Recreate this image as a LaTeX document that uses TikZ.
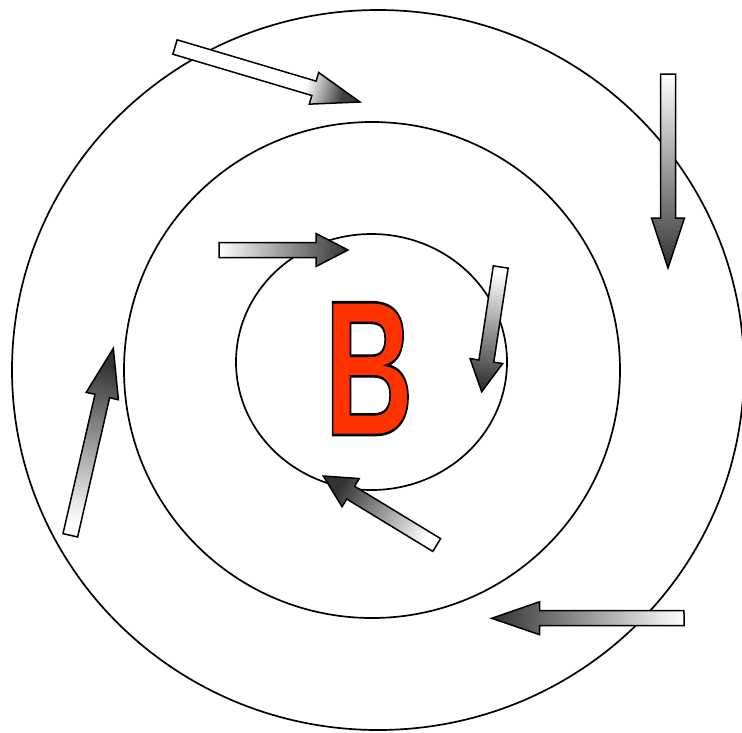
\documentclass[tikz,border=0pt]{standalone}
\usepackage{fontspec}
\usepackage{graphicx}
\usepackage{xcolor}
\usetikzlibrary{calc}

\newfontfamily\letterfont{Liberation Sans}
\definecolor{letterred}{HTML}{FF3300}
% filled text with a black outline
\newcommand{\outlined}[1]{\special{pdf:literal direct 2 Tr 2.6 w 0 0 0 RG}#1\special{pdf:literal direct 0 Tr}}

% white tail -> dark head
\pgfdeclareverticalshading{arrowfade}{100bp}{color(0bp)=(black!80); color(25bp)=(black!80); color(75bp)=(white); color(100bp)=(white)}
% only the head is shaded
\pgfdeclareverticalshading{headfade}{100bp}{color(0bp)=(black!80); color(25bp)=(black!75); color(37bp)=(white); color(100bp)=(white)}

\tikzset{
  ring/.style={draw=black, line width=1.7pt},
  arrowbody/.style={draw=black, line width=1.5pt, line join=miter}
}

% #1 tail, #2 tip, #3 head length, #4 shading
\newcommand{\blockarrow}[4]{%
  \pgfmathanglebetweenpoints{\pgfpointanchor{#1}{center}}{\pgfpointanchor{#2}{center}}%
  \pgfmathsetmacro{\arrowang}{\pgfmathresult+90}%
  \coordinate (#1base) at ($(#2)!#3!(#1)$);
  \shadedraw[arrowbody, shading=#4, shading angle=\arrowang]
    ($(#1)!7.5pt!90:(#2)$) -- ($(#1base)!7.5pt!90:(#2)$) -- ($(#1base)!16.5pt!90:(#2)$) -- (#2)
    -- ($(#1base)!16.5pt!-90:(#2)$) -- ($(#1base)!7.5pt!-90:(#2)$) -- ($(#1)!7.5pt!-90:(#2)$) -- cycle;
}

\begin{document}
\begin{tikzpicture}[x=1pt, y=-1pt]
    \useasboundingbox (0,0) rectangle (742,732);
    \clip (0,0) rectangle (742,732);

    % The three rings
    \draw[ring] (378,370) ellipse [x radius=366, y radius=360];
    \draw[ring] (372,370) circle [radius=248];
    \draw[ring] (371.5,362) ellipse [x radius=135.5, y radius=128];

    % The letter
    \node[anchor=base, inner sep=0pt] (letter) at (369,435)
      {\scalebox{0.64}[1]{\fontsize{193}{193}\letterfont\bfseries\color{letterred}\outlined{B}}};

    % Arrow ends
    % Outer ring
    \coordinate (ta) at (175,47);    \coordinate (ha) at (360,102);
    \coordinate (tb) at (668,74);    \coordinate (hb) at (668,268);
    \coordinate (tc) at (684,618);   \coordinate (hc) at (491.7,618.3);
    \coordinate (td) at (70.3,535.3); \coordinate (hd) at (113.3,348.3);
    % Inner ring
    \coordinate (te) at (219,250);   \coordinate (he) at (348,250);
    \coordinate (tf) at (500.7,267); \coordinate (hf) at (481.7,391.7);
    \coordinate (tg) at (436.7,545); \coordinate (hg) at (323.3,476);

    % Draw the arrows
    \blockarrow{ta}{ha}{48pt}{headfade}
    \blockarrow{tb}{hb}{50pt}{arrowfade}
    \blockarrow{tc}{hc}{48pt}{arrowfade}
    \blockarrow{td}{hd}{49pt}{arrowfade}
    \blockarrow{te}{he}{32pt}{arrowfade}
    \blockarrow{tf}{hf}{31pt}{arrowfade}
    \blockarrow{tg}{hg}{32pt}{arrowfade}
\end{tikzpicture}
\end{document}
